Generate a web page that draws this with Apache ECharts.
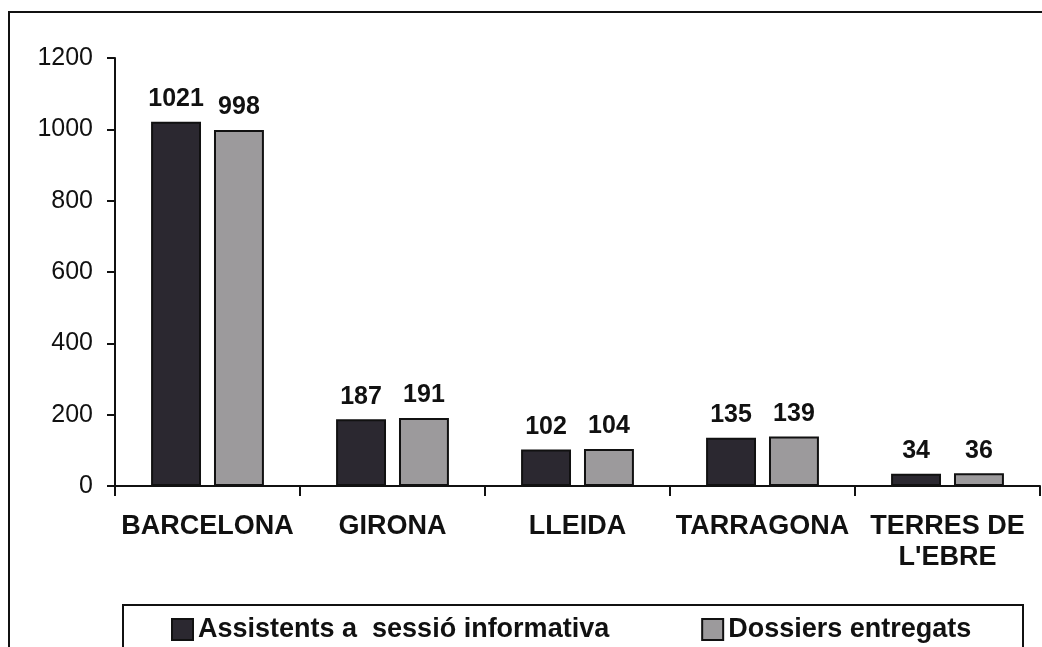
<!DOCTYPE html>
<html>
<head>
<meta charset="utf-8">
<script src="https://cdn.jsdelivr.net/npm/echarts@6/dist/echarts.min.js"></script>
<style>
  html, body { margin: 0; padding: 0; background: #fff; }
  #chart { width: 1042px; height: 647px; }
</style>
</head>
<body>
<div id="chart"></div>
<script>
// values
const categories = ['BARCELONA', 'GIRONA', 'LLEIDA', 'TARRAGONA', "TERRES DE\nL'EBRE"]
const assistents = [1021, 187, 102, 135, 34]
const dossiers = [998, 191, 104, 139, 36]
const seriesNames = ['Assistents a  sessió informativa', 'Dossiers entregats']
const yTicks = [0, 200, 400, 600, 800, 1000, 1200]

const font = '"Liberation Sans", Arial, sans-serif'
const darkBar = '#2b2830'
const lightBar = '#9c9a9c'

const chart = echarts.init(document.getElementById('chart'))

const labelStyle = {
  show: true,
  position: 'top',
  distance: 10,
  fontFamily: font,
  fontWeight: 'bold',
  fontSize: 25,
  color: '#111',
}

chart.setOption({
  backgroundColor: '#fff',
  animation: false,
  grid: { left: 115, right: 2, top: 58, bottom: 161 },
  graphic: [
    // outer frame of the scanned chart
    { type: 'polyline', shape: { points: [[9, 660], [9, 12], [1050, 12]] },
      style: { fill: null, stroke: '#111', lineWidth: 2 } },
    // legend box
    { type: 'rect', shape: { x: 123, y: 605, width: 900, height: 60 },
      style: { fill: '#fff', stroke: '#111', lineWidth: 2 } },
  ],
  legend: {
    left: 166,
    top: 611,
    itemWidth: 21,
    itemHeight: 21,
    itemGap: 92,
    icon: 'rect',
    textStyle: { fontFamily: font, fontWeight: 'bold', fontSize: 27, color: '#111' },
    data: seriesNames,
  },
  xAxis: {
    type: 'category',
    data: categories,
    axisLine: { lineStyle: { color: '#111', width: 2 } },
    axisTick: { show: true, length: 10, lineStyle: { color: '#111', width: 2 } },
    axisLabel: {
      margin: 25,
      interval: 0,
      fontFamily: font,
      fontWeight: 'bold',
      fontSize: 27,
      lineHeight: 31,
      color: '#111',
    },
  },
  yAxis: {
    type: 'value',
    min: yTicks[0],
    max: yTicks[yTicks.length - 1],
    interval: 200,
    axisLine: { show: true, lineStyle: { color: '#111', width: 2 } },
    axisTick: { show: true, length: 8, lineStyle: { color: '#111', width: 2 } },
    splitLine: { show: false },
    axisLabel: {
      margin: 22,
      fontFamily: font,
      fontSize: 25,
      color: '#111',
      formatter: (v) => String(v),
    },
  },
  series: [
    {
      name: seriesNames[0],
      type: 'bar',
      data: assistents,
      barGap: '26%',
      barCategoryGap: '39%',
      itemStyle: { color: darkBar, borderColor: '#111', borderWidth: 2 },
      label: labelStyle,
    },
    {
      name: seriesNames[1],
      type: 'bar',
      data: dossiers,
      itemStyle: { color: lightBar, borderColor: '#111', borderWidth: 2 },
      label: labelStyle,
    },
  ],
})

window.addEventListener('resize', () => chart.resize())
</script>
</body>
</html>
